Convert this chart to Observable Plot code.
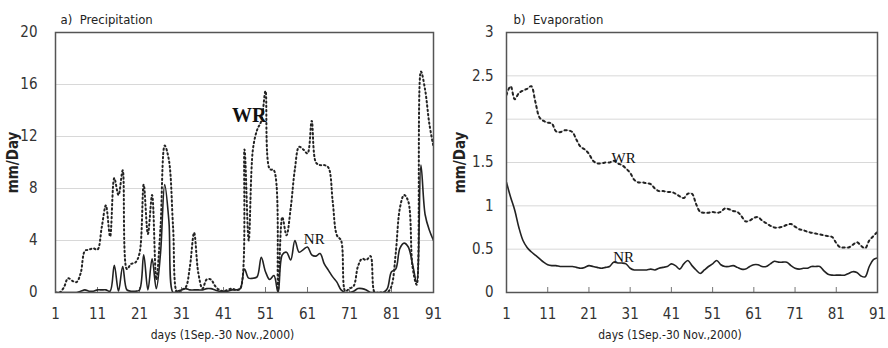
<!DOCTYPE html>
<html><head><meta charset="utf-8">
<script src="https://cdn.jsdelivr.net/npm/d3@7"></script>
<script src="https://cdn.jsdelivr.net/npm/@observablehq/plot@0.6"></script>
<style>
body{margin:0;background:#fff;}
#wrap{display:flex;width:888px;height:348px;overflow:hidden;}
#wrap svg{flex:none;}
</style></head><body><div id="wrap"></div>
<script>
// ---- data ----
const days = d3.range(1, 92);
const precipWR = [0,0,0.4,1.1,0.9,0.8,1.5,3.2,3.3,3.4,3.3,5.0,6.7,4.3,8.8,7.5,9.4,1.8,2.2,2.3,
  3.0,8.3,4.5,7.5,1.0,5.0,11.3,10.2,5.0,0,0.2,0.4,2.0,4.6,1.5,0.3,1.0,1.0,0.5,0.2,
  0.1,0.2,0.3,0.2,0.3,11.0,4.0,11.0,12.5,13.2,15.5,9.5,9.4,0.2,5.8,4.4,6.5,9.5,11.2,11.0,
  10.7,13.2,10.0,9.8,9.8,9.6,7.0,4.4,4.0,0.1,0.3,0.5,2.0,2.6,2.5,2.8,0,0,0,0,
  0.5,3.0,6.5,7.5,7.0,2.0,0.6,17.0,15.6,13.0,11.2];
const precipNR = [0,0,0,0,0,0,0.1,0.2,0.1,0.1,0.2,0.2,0.2,0.1,2.1,0.1,2.0,0.2,0.1,0.1,
  0.2,2.9,0.2,2.6,0.3,3.0,8.3,5.5,0,0.1,0.2,0.3,0.2,0.2,0.2,0.2,0.3,0.3,0.2,0.1,
  0.1,0.1,0.2,0.2,0.3,1.8,1.1,1.1,1.2,2.7,1.6,1.0,1.3,0,2.9,3.1,2.5,4.0,3.1,3.3,
  3.5,2.9,2.8,3.0,2.2,1.7,1.2,0.8,0.2,0,0,0.1,0.3,0.3,0.2,0,0,0,0,0.3,
  1.6,1.8,3.4,3.8,3.5,2.2,0.8,9.8,6.0,4.8,4.0];
const evapWR = [2.28,2.38,2.23,2.3,2.33,2.35,2.38,2.2,2.02,1.98,1.96,1.95,1.86,1.85,1.87,1.87,1.85,1.76,1.68,1.65,
  1.6,1.52,1.49,1.49,1.5,1.5,1.52,1.49,1.47,1.43,1.38,1.3,1.27,1.27,1.26,1.25,1.2,1.17,1.17,1.16,
  1.16,1.14,1.11,1.09,1.14,1.14,1.02,0.93,0.92,0.92,0.93,0.92,0.93,0.97,0.96,0.94,0.93,0.88,0.82,0.83,
  0.86,0.87,0.83,0.8,0.77,0.75,0.75,0.76,0.78,0.79,0.76,0.73,0.72,0.7,0.69,0.68,0.67,0.66,0.65,0.64,
  0.57,0.52,0.52,0.52,0.55,0.58,0.54,0.51,0.6,0.65,0.7];
const evapNR = [1.27,1.1,0.95,0.75,0.6,0.52,0.47,0.43,0.39,0.35,0.32,0.31,0.31,0.3,0.3,0.3,0.3,0.29,0.28,0.29,
  0.31,0.3,0.29,0.28,0.29,0.3,0.35,0.34,0.34,0.33,0.28,0.26,0.26,0.26,0.26,0.27,0.26,0.28,0.29,0.3,
  0.33,0.31,0.27,0.33,0.37,0.31,0.26,0.22,0.26,0.3,0.33,0.37,0.32,0.3,0.3,0.31,0.29,0.27,0.27,0.3,
  0.32,0.32,0.3,0.3,0.33,0.36,0.35,0.35,0.35,0.31,0.28,0.27,0.28,0.28,0.3,0.3,0.3,0.25,0.21,0.2,
  0.2,0.2,0.2,0.22,0.24,0.23,0.19,0.18,0.3,0.38,0.4];
const xTicks = [1,11,21,31,41,51,61,71,81,91];
const precipTicks = [0,4,8,12,16,20];
const evapTicks = [0,0.5,1,1.5,2,2.5,3];
const titles = ["a)  Precipitation", "b)  Evaporation"];
const yLabel = "mm/Day";
const xLabel = "days (1Sep.-30 Nov.,2000)";
const precipWRLabel = [{day:47.1, value:13.1, text:"WR"}];
const precipNRLabel = [{day:62.6, value:3.7, text:"NR"}];
const evapLabels = [{day:29.4, value:1.5, text:"WR"}, {day:29.4, value:0.35, text:"NR"}];

// ---- drawing ----
const SANS = "'Liberation Sans Narrow','Arial Narrow','DejaVu Sans Condensed','Liberation Sans',Arial,sans-serif";
const SERIF = "'Liberation Serif','Times New Roman',serif";
const toRows = arr => days.map((d, i) => ({day: d, value: arr[i]}));

function panel({width, marginLeft, yDomain, yTicks, wr, nr, title, titleDx, yLabelDx, tickPad, labelMarks, wrDash, wrUnder}) {
  return Plot.plot({
    width, height: 348,
    marginLeft, marginRight: 11, marginTop: 32, marginBottom: 56,
    style: {fontFamily: SANS, fontSize: "15px", color: "#333", background: "#fff"},
    x: {domain: [1, 91]},
    y: {domain: yDomain},
    marks: [
      Plot.gridY(yTicks.slice(1, -1), {stroke: "#d8d8d8", strokeOpacity: 1, strokeWidth: 1}),
      Plot.axisY(yTicks, {tickSize: 0, tickPadding: tickPad, fontSize: 15, label: null, tickFormat: d => String(d), fill: "#333"}),
      Plot.axisX(xTicks, {tickSize: 0, tickPadding: 16, fontSize: 15, label: null, fill: "#333"}),
      Plot.axisX(xTicks, {tickSize: -5, tickFormat: () => "", label: null, stroke: "#777"}),
      Plot.line(toRows(wr), {x: "day", y: "value", curve: "catmull-rom", stroke: wrUnder, strokeWidth: 1.2, clip: true}),
      Plot.line(toRows(wr), {x: "day", y: "value", curve: "catmull-rom", stroke: "#222", strokeWidth: 2, strokeDasharray: wrDash, clip: true}),
      Plot.line(toRows(nr), {x: "day", y: "value", curve: "catmull-rom", stroke: "#222", strokeWidth: 1.6, clip: true}),
      ...labelMarks,
      Plot.frame({stroke: "#555", strokeWidth: 1.5}),
      Plot.text([title], {frameAnchor: "top-left", dx: titleDx, dy: -9, lineAnchor: "bottom", textAnchor: "start", fontSize: 13, fill: "#222"}),
      Plot.text([yLabel], {frameAnchor: "left", rotate: -90, dx: yLabelDx, fontSize: 15, fontWeight: "bold", fill: "#222", textAnchor: "middle", lineAnchor: "middle", letterSpacing: 1}),
      Plot.text([xLabel], {frameAnchor: "bottom", dx: -22, dy: 46, lineAnchor: "bottom", fontSize: 12, fill: "#222"})
    ]
  });
}

const a = panel({
  width: 444, marginLeft: 55, yDomain: [0, 20], yTicks: precipTicks,
  wr: precipWR, nr: precipNR, title: titles[0], titleDx: 5, yLabelDx: -42, tickPad: 18,
  wrDash: "1.3,3", wrUnder: "#e6e6e6",
  labelMarks: [
    Plot.text(precipWRLabel, {x: "day", y: "value", text: "text", fontFamily: SERIF, fontSize: 20, fontWeight: "bold", lineAnchor: "bottom", fill: "#111"}),
    Plot.text(precipNRLabel, {x: "day", y: "value", text: "text", fontFamily: SERIF, fontSize: 15, lineAnchor: "bottom", fill: "#111"})
  ]
});
const b = panel({
  width: 444, marginLeft: 62, yDomain: [0, 3], yTicks: evapTicks,
  wr: evapWR, nr: evapNR, title: titles[1], titleDx: 7, yLabelDx: -46, tickPad: 13,
  wrDash: "2,3.5", wrUnder: "#c4c4c4",
  labelMarks: [
    Plot.text(evapLabels, {x: "day", y: "value", text: "text", fontFamily: SERIF, fontSize: 15, lineAnchor: "bottom", fill: "#111"})
  ]
});
document.getElementById("wrap").append(a, b);
</script>
</body></html>
